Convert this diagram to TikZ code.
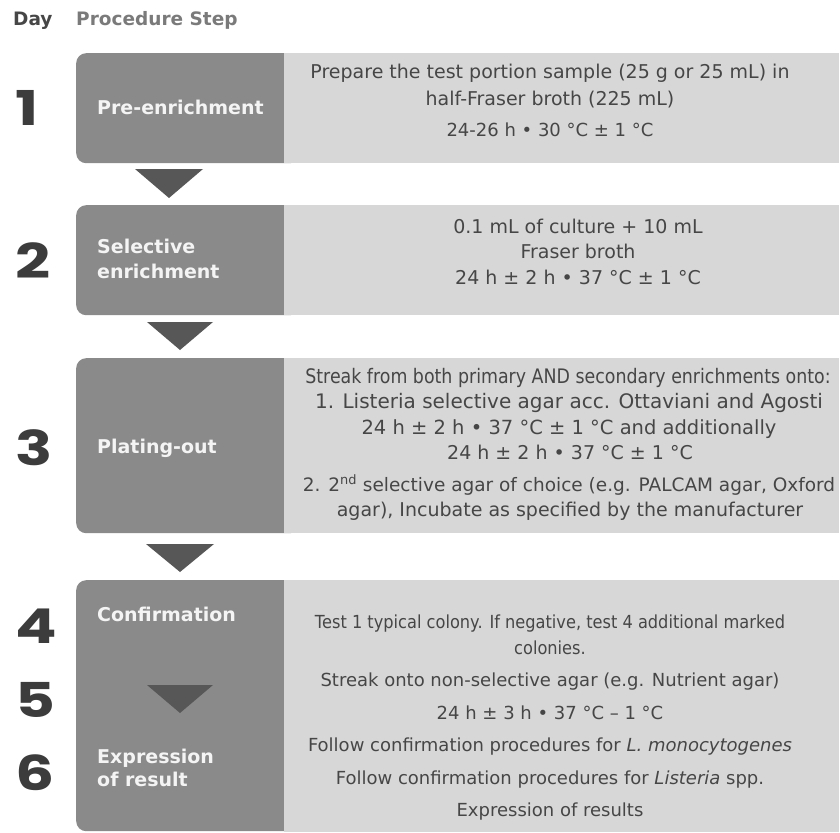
\documentclass[tikz,border=0pt]{standalone}
\usepackage{fontspec}
\setmainfont{DejaVu Sans}
\newfontfamily\numfont[FakeStretch=1.28]{Poppins}
\newfontfamily\condfont[FakeStretch=0.87]{DejaVu Sans}
\newfontfamily\semifont[FakeStretch=0.9]{DejaVu Sans}
\definecolor{boxdark}{HTML}{8A8A8A}
\definecolor{boxlight}{HTML}{D7D7D7}
\definecolor{arrowc}{HTML}{575757}
\definecolor{txtc}{HTML}{464646}
\definecolor{numc}{HTML}{3C3C3C}
\definecolor{labc}{HTML}{F4F4F4}
\definecolor{dayc}{HTML}{464646}
\definecolor{stepc}{HTML}{7A7A7A}
\tikzset{
  dbox/.style={fill=boxdark, rounded corners=10pt, anchor=north west, inner sep=0pt, minimum width=224pt},
  lbox/.style={fill=boxlight, anchor=north west, inner sep=0pt, minimum width=555pt},
  tri/.style={fill=arrowc},
  ltxt/.style={anchor=base, text=txtc, inner sep=0pt, font=\fontsize{19}{23}\selectfont},
  stxt/.style={anchor=base, text=txtc, inner sep=0pt, font=\fontsize{18}{22}\selectfont},
  lab/.style={anchor=base west, text=labc, inner sep=0pt, font=\bfseries\fontsize{19}{23}\selectfont},
  daynum/.style={anchor=base west, text=numc, inner sep=0pt, font=\numfont\bfseries\fontsize{48}{48}\selectfont},
  head/.style={anchor=base west, inner sep=0pt, font=\bfseries\fontsize{18.5}{22}\selectfont},
}
\begin{document}
\begin{tikzpicture}[x=1pt,y=-1pt]
\useasboundingbox (0,0) rectangle (840,832);
% header
\node[head, text=dayc] (hday) at (13,26) {Day};
\node[head, text=stepc] (hstep) at (76,26) {Procedure Step};
% boxes
\node[dbox, minimum height=110pt] (d1) at (76,53) {};
\node[lbox, minimum height=110pt] (l1) at (284,53) {};
\node[dbox, minimum height=110pt] (d2) at (76,205) {};
\node[lbox, minimum height=110pt] (l2) at (284,205) {};
\node[dbox, minimum height=175pt] (d3) at (76,358) {};
\node[lbox, minimum height=175pt] (l3) at (284,358) {};
\node[dbox, minimum height=251pt] (d4) at (76,580) {};
\node[lbox, minimum height=252pt] (l4) at (284,580) {};
% arrows
\fill[tri] (135,169) -- (203,169) -- (169,198) -- cycle;
\fill[tri] (147,322) -- (213,322) -- (180,350) -- cycle;
\fill[tri] (146,544) -- (214,544) -- (180,572) -- cycle;
\fill[tri] (147,685) -- (213,685) -- (180,713) -- cycle;
% day numbers
\node[daynum] (n1) at (15,125) {1};
\node[daynum] (n2) at (15,278) {2};
\node[daynum] (n3) at (15,465) {3};
\node[daynum] (n4) at (15,643) {4};
\node[daynum] (n5) at (15,717) {5};
\node[daynum] (n6) at (15,790) {6};
% labels
\node[lab] (p1) at (97,114) {Pre-enrichment};
\node[lab] (p2a) at (97,253) {Selective};
\node[lab] (p2b) at (97,278) {enrichment};
\node[lab] (p3) at (97,453) {Plating-out};
\node[lab] (p4) at (97,621) {Confirmation};
\node[lab] (p6a) at (97,763) {Expression};
\node[lab] (p6b) at (97,786) {of result};
% box 1 text
\node[ltxt] (a1) at (550,79) {Prepare the test portion sample (25 g or 25 mL) in};
\node[ltxt] (a2) at (550,106) {half-Fraser broth (225 mL)};
\node[stxt] (a3) at (550,136) {24-26 h • 30 °C ± 1 °C};
% box 2 text
\node[ltxt] (b1) at (578,233) {0.1 mL of culture + 10 mL};
\node[ltxt] (b2) at (578,258) {Fraser broth};
\node[ltxt] (b3) at (578,284) {24 h ± 2 h • 37 °C ± 1 °C};
% box 3 text
\node[ltxt, font=\condfont\fontsize{20}{24}\selectfont] (c1) at (568,383) {Streak from both primary AND secondary enrichments onto:};
\node[ltxt, font=\fontsize{20}{24}\selectfont] (c2) at (569,408) {1. Listeria selective agar acc. Ottaviani and Agosti};
\node[ltxt, font=\fontsize{19.5}{24}\selectfont] (c3) at (569,434) {24 h ± 2 h • 37 °C ± 1 °C and additionally};
\node[ltxt] (c4) at (570,459) {24 h ± 2 h • 37 °C ± 1 °C};
\node[ltxt, font=\fontsize{18.5}{23}\selectfont] (c5) at (569,491) {2. 2\textsuperscript{nd} selective agar of choice (e.g. PALCAM agar, Oxford};
\node[ltxt] (c6) at (570,516) {agar), Incubate as specified by the manufacturer};
% box 4 text
\node[stxt, font=\semifont\fontsize{18}{22}\selectfont] (e1) at (550,628) {Test 1 typical colony. If negative, test 4 additional marked};
\node[stxt, font=\semifont\fontsize{18}{22}\selectfont] (e2) at (550,654) {colonies.};
\node[stxt] (e3) at (550,686) {Streak onto non-selective agar (e.g. Nutrient agar)};
\node[stxt] (e4) at (550,719) {24 h ± 3 h • 37 °C – 1 °C};
\node[stxt] (e5) at (550,751) {Follow confirmation procedures for \textit{L. monocytogenes}};
\node[stxt] (e6) at (550,784) {Follow confirmation procedures for \textit{Listeria} spp.};
\node[stxt] (e7) at (550,816) {Expression of results};
\end{tikzpicture}
\end{document}
